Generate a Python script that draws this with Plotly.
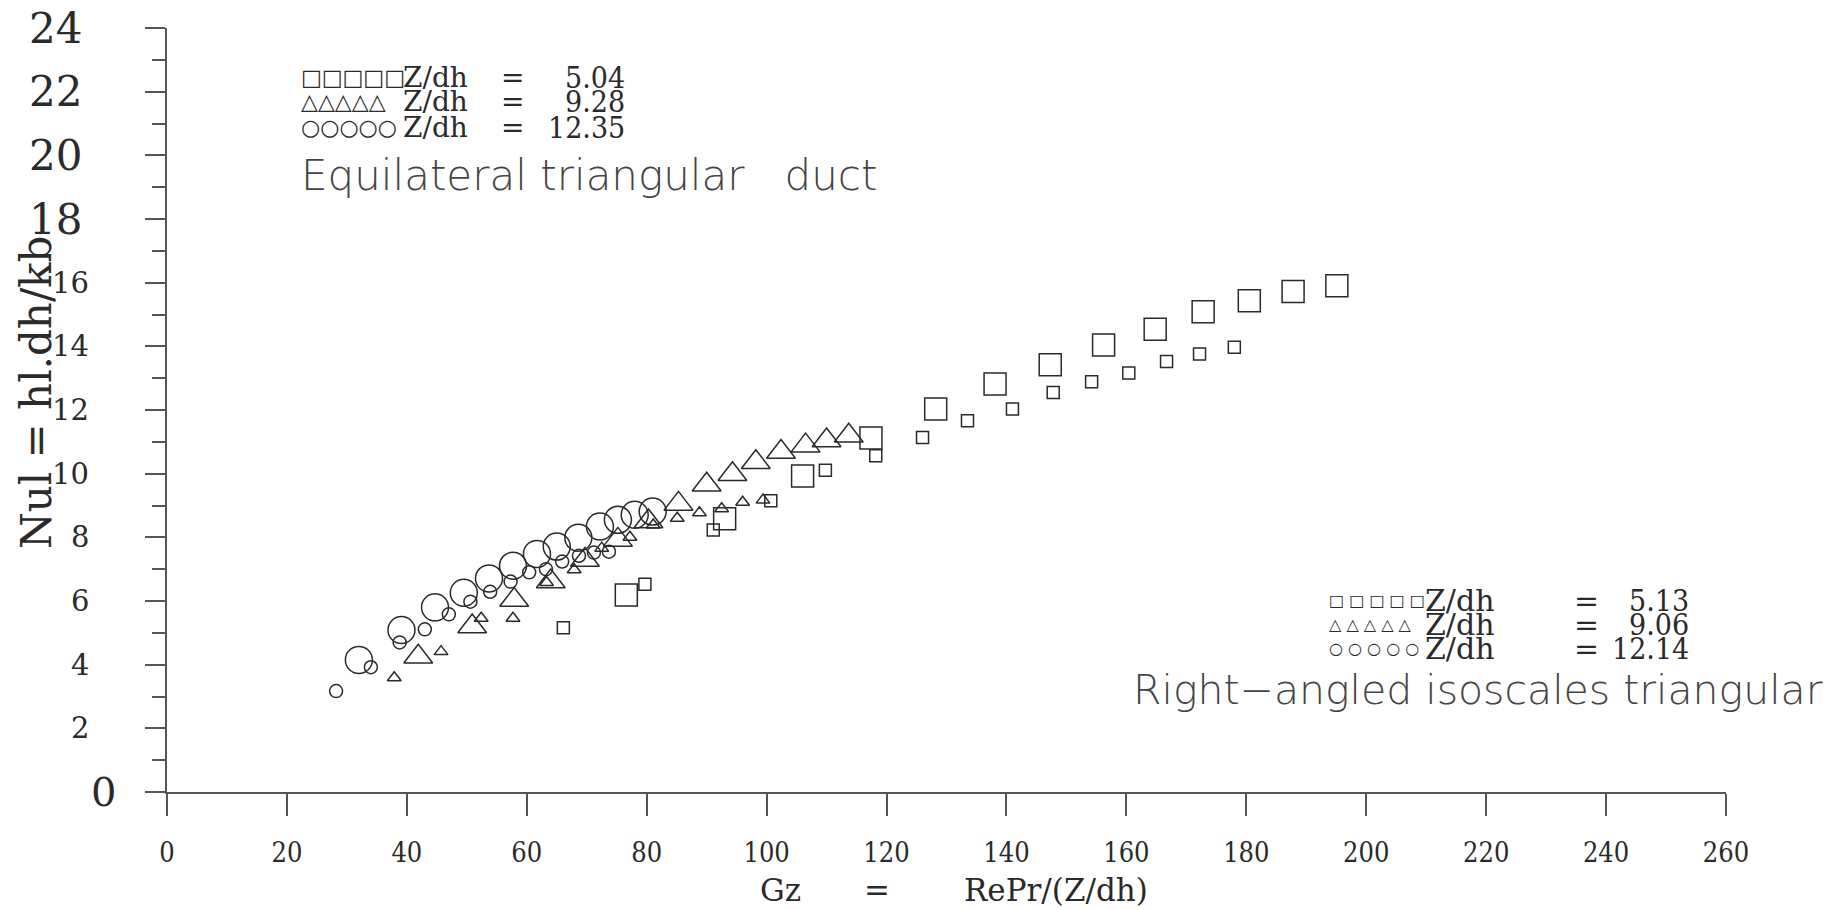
import plotly.graph_objects as go

# ---------------- data ----------------
# Equilateral triangular duct (large open markers)
eq_sq_x = [76.6, 93.0, 106.0, 117.4, 128.2, 138.1, 147.3, 156.2, 164.8, 172.8, 180.5, 187.8, 195.1]
eq_sq_y = [6.19, 8.58, 9.93, 11.12, 12.03, 12.82, 13.42, 14.04, 14.54, 15.09, 15.43, 15.72, 15.90]
eq_tr_x = [41.9, 50.9, 57.9, 64.0, 69.7, 75.2, 80.3, 85.3, 90.0, 94.3, 98.2, 102.4, 106.5, 110.0, 113.7]
eq_tr_y = [4.25, 5.20, 6.03, 6.61, 7.29, 7.92, 8.50, 9.05, 9.65, 9.98, 10.36, 10.68, 10.88, 11.04, 11.19]
eq_ci_x = [32.0, 39.1, 44.7, 49.5, 53.7, 57.7, 61.7, 65.0, 68.6, 72.2, 75.2, 78.0, 81.0]
eq_ci_y = [4.15, 5.09, 5.80, 6.26, 6.71, 7.11, 7.48, 7.71, 7.99, 8.34, 8.55, 8.71, 8.81]

# Right-angled isosceles triangular duct (small open markers)
ra_sq_x = [66.1, 79.7, 91.1, 100.7, 109.8, 118.2, 126.0, 133.5, 141.0, 147.8, 154.2, 160.4, 166.7, 172.2, 178.0]
ra_sq_y = [5.16, 6.53, 8.23, 9.15, 10.11, 10.56, 11.14, 11.66, 12.03, 12.55, 12.89, 13.16, 13.52, 13.76, 13.97]
ra_tr_x = [37.9, 45.7, 52.4, 57.7, 63.3, 67.9, 72.5, 77.2, 81.1, 85.1, 88.8, 92.5, 96.0, 99.4]
ra_tr_y = [3.59, 4.41, 5.46, 5.46, 6.58, 6.98, 7.66, 8.00, 8.39, 8.60, 8.77, 8.90, 9.10, 9.17]
ra_ci_x = [28.2, 34.0, 38.8, 43.0, 47.0, 50.6, 53.9, 57.3, 60.4, 63.2, 65.9, 68.7, 71.2, 73.7]
ra_ci_y = [3.17, 3.92, 4.70, 5.11, 5.58, 5.98, 6.29, 6.61, 6.90, 7.00, 7.24, 7.42, 7.52, 7.55]

eq_values = ["5.04", "9.28", "12.35"]
ra_values = ["5.13", "9.06", "12.14"]

x_ticks = list(range(0, 261, 20))
y_ticks = list(range(0, 25, 2))
big_y_labels = [18, 20, 22, 24]

# ---------------- figure ----------------
W, H = 1839, 910
L, R, T, B = 167, 113, 28, 118
INK = "#2a2a2a"
SERIF = "DejaVu Serif, Liberation Serif, serif"
COND = "DejaVu Serif Condensed, Liberation Serif, serif"
THIN = "DejaVu Sans, Open Sans, sans-serif"

fig = go.Figure()

def add(xs, ys, symbol, size, lw=1.5):
    fig.add_trace(go.Scatter(
        x=xs, y=ys, mode="markers", showlegend=False, cliponaxis=False,
        marker=dict(symbol=symbol, size=size, color=INK,
                    line=dict(color=INK, width=lw))))

add(ra_sq_x, ra_sq_y, "square-open", 12)
add(ra_tr_x, ra_tr_y, "triangle-up-open", 12)
add(ra_ci_x, ra_ci_y, "circle-open", 13)
add(eq_sq_x, eq_sq_y, "square-open", 22)
add(eq_tr_x, eq_tr_y, "triangle-up-open", 25)
add(eq_ci_x, eq_ci_y, "circle-open", 27)

fig.update_layout(
    width=W, height=H,
    margin=dict(l=L, r=R, t=T, b=B, pad=0),
    paper_bgcolor="white", plot_bgcolor="white",
    showlegend=False,
    xaxis=dict(range=[0, 260], tickvals=x_ticks, ticks="outside", ticklen=22,
               tickwidth=1.5, tickcolor="#555", showline=True, linecolor="#555",
               linewidth=1.5, showgrid=False, zeroline=False,
               tickfont=dict(family=COND, size=27, color=INK),
               ticklabelstandoff=14),
    yaxis=dict(range=[0, 24], tickvals=y_ticks, showticklabels=False, ticks="outside",
               ticklen=20, tickwidth=1.5, tickcolor="#555", showline=True,
               linecolor="#555", linewidth=1.5, showgrid=False, zeroline=False,
               minor=dict(dtick=1, tick0=0, ticks="outside", ticklen=13,
                          tickwidth=1.5, tickcolor="#555", showgrid=False)),
)

pw, ph = W - L - R, H - T - B

def px(xp):
    return (xp - L) / pw

def py(yp):
    return (H - B - yp) / ph

def note(xp, yp, text, size, family=SERIF, xanchor="left", angle=0, color=INK, weight=None):
    f = dict(family=family, size=size, color=color)
    if weight:
        f["weight"] = weight
    fig.add_annotation(x=px(xp), y=py(yp), xref="paper", yref="paper", text=text,
                       showarrow=False, xanchor=xanchor, yanchor="middle",
                       textangle=angle, font=f, borderpad=0)

# y tick labels (sizes differ as in the scanned original), placed on the y scale
for v in y_ticks:
    if v in big_y_labels:
        size, right = 42, 84
    elif v == 0:
        size, right = 40, 118
    else:
        size, right = 29, 91
    fig.add_annotation(x=px(right), y=v, xref="paper", yref="y", text=str(v),
                       showarrow=False, xanchor="right", yanchor="middle",
                       font=dict(family=SERIF, size=size, color=INK))

# top-left legend (equilateral, large markers)
glyphs = ["□□□□□", "△△△△△", "○○○○○"]
rows_tl = [77, 102, 127]
for g, v, yp in zip(glyphs, eq_values, rows_tl):
    note(300, yp, g, 22, family="DejaVu Sans")
    note(402, yp, "Z/dh", 28)
    note(512, yp, "=", 28, xanchor="center")
    note(626, yp, v, 30, family=COND, xanchor="right")
note(300, 175, "Equilateral triangular   duct", 42, family=THIN, weight=200, color="#444")

# bottom-right legend (right-angled, small markers)
rows_br = [600, 624, 648]
for g, v, yp in zip(glyphs, ra_values, rows_br):
    note(1328, yp, " ".join(g), 16, family="DejaVu Sans")
    note(1424, yp, "Z/dh", 30)
    note(1586, yp, "=", 30, xanchor="center")
    note(1690, yp, v, 30, family=COND, xanchor="right")
note(1132, 690, "Right−angled isoscales triangular", 41, family=THIN, weight=200, color="#444")

# axis titles
note(780, 890, "Gz", 31, xanchor="center")
note(877, 890, "=", 31, xanchor="center")
note(1056, 890, "RePr/(Z/dh)", 31, xanchor="center")
note(36, 393, "Nul = hl.dh/kb", 42, xanchor="center", angle=-90)

fig.write_html("out.html")
